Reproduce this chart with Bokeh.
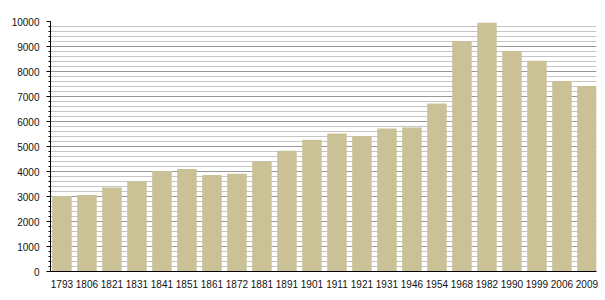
from bokeh.plotting import figure
from bokeh.models import FixedTicker, Range1d, ColumnDataSource
from bokeh.embed import file_html
from bokeh.resources import INLINE

years = ["1793", "1806", "1821", "1831", "1841", "1851", "1861", "1872", "1881", "1891", "1901",
         "1911", "1921", "1931", "1946", "1954", "1968", "1982", "1990", "1999", "2006", "2009"]
population = [3020, 3060, 3360, 3600, 4020, 4100, 3860, 3910, 4400, 4830, 5270,
              5520, 5420, 5720, 5760, 6720, 9220, 9950, 8820, 8430, 7620, 7420]
y_ticks = [0, 1000, 2000, 3000, 4000, 5000, 6000, 7000, 8000, 9000, 10000]

idx = list(range(len(years)))
src = ColumnDataSource(dict(x=idx, top=population))

p = figure(width=605, height=300, output_backend="svg", toolbar_location=None,
           x_range=Range1d(-0.458, 21.382), y_range=Range1d(0, 10000),
           min_border_left=50, min_border_right=9, min_border_top=21, min_border_bottom=29)
p.outline_line_color = None
p.background_fill_color = "white"

p.vbar(x="x", top="top", width=0.78, bottom=0, source=src,
       fill_color="#CBC197", line_color=None)

p.yaxis.ticker = FixedTicker(ticks=y_ticks, minor_ticks=list(range(0, 10001, 200)))
p.ygrid.ticker = p.yaxis.ticker
p.ygrid.grid_line_color = "#999999"
p.ygrid.grid_line_width = 1
p.ygrid.minor_grid_line_color = "#c4c4c4"
p.ygrid.minor_grid_line_width = 1
p.xgrid.grid_line_color = None
p.ygrid.level = "underlay"

p.yaxis.axis_line_color = "black"
p.yaxis.major_tick_line_color = "black"
p.yaxis.minor_tick_line_color = "black"
p.yaxis.major_tick_out = 4
p.yaxis.major_tick_in = 0
p.yaxis.minor_tick_out = 2
p.yaxis.minor_tick_in = 0
p.yaxis.major_label_standoff = 7
p.yaxis.major_label_text_font = "Liberation Sans"
p.yaxis.major_label_text_font_size = "10px"
p.yaxis.major_label_text_color = "#111111"

p.xaxis.ticker = FixedTicker(ticks=idx)
p.xaxis.major_label_overrides = {i: y for i, y in enumerate(years)}
p.xaxis.axis_line_color = "black"
p.xaxis.major_tick_line_color = None
p.xaxis.minor_tick_line_color = None
p.xaxis.major_label_standoff = 2
p.xaxis.major_label_text_font = "Liberation Sans"
p.xaxis.major_label_text_font_size = "10px"
p.xaxis.major_label_text_color = "#111111"

open("out.html", "w").write(file_html(p, INLINE))
